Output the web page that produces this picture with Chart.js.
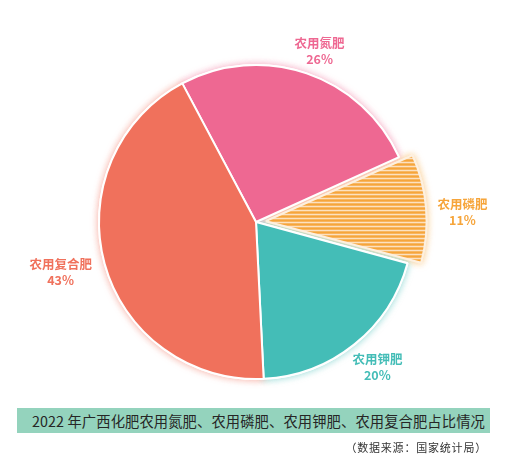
<!DOCTYPE html>
<html>
<head>
<meta charset="utf-8">
<script src="https://cdn.jsdelivr.net/npm/chart.js@4.4.0/dist/chart.umd.min.js"></script>
<style>
  body { margin: 0; background: #fff; }
  #wrap { position: relative; width: 505px; height: 466px; overflow: hidden; }
  #chartBox { position: absolute; left: 0; top: 0; width: 505px; height: 466px; }
  #caption {
    position: absolute; left: 17px; top: 408px; width: 458px; height: 25px;
    padding-left: 15px; background: #94d3bd; color: #262626;
    font: 14.3px "Noto Sans CJK SC", "Noto Sans", sans-serif; line-height: 25px;
    letter-spacing: 0.1px; white-space: nowrap;
  }
  #source {
    position: absolute; right: 18px; top: 439px;
    font: 11px "Noto Sans CJK SC", sans-serif; color: #333; letter-spacing: 0.8px;
  }
</style>
</head>
<body>
<div id="wrap">
  <div id="chartBox"><canvas id="fertChart"></canvas></div>
  <div id="caption">2022 年广西化肥农用氮肥、农用磷肥、农用钾肥、农用复合肥占比情况</div>
  <div id="source">（数据来源：国家统计局）</div>
</div>
<script>
// Share of fertilizer use, Guangxi 2022 (%)
const categories = ['农用氮肥', '农用磷肥', '农用钾肥', '农用复合肥'];
const shares = [26, 11, 20, 43];

const sliceColors = ['#ee6892', '#f6a53b', '#44bdb7', '#f0715c'];
const glowColors = ['rgba(238,104,146,0.55)', 'rgba(246,165,59,0.55)', 'rgba(68,189,183,0.55)', 'rgba(240,113,92,0.55)'];
// label nudges from the slice's outer mid point
const labelNudge = [[13, -22], [40, 4], [23, 23], [-44, 9]];

// striped fill for the phosphate slice
function stripes(base, light) {
  const tile = document.createElement('canvas');
  tile.width = 8;
  tile.height = 4;
  const t = tile.getContext('2d');
  t.fillStyle = base;
  t.fillRect(0, 0, 8, 4);
  t.fillStyle = light;
  t.fillRect(0, 2.7, 8, 1.3);
  return t.createPattern(tile, 'repeat');
}

const ctx = document.getElementById('fertChart').getContext('2d');
const fills = sliceColors.slice();
fills[1] = stripes('#f6a53b', '#fdeede');

// soft glow around each slice
const glowPlugin = {
  id: 'glow',
  beforeDatasetDraw(chart, args) {
    const c = chart.ctx;
    args.meta.data.forEach((arc, i) => {
      c.save();
      c.shadowColor = glowColors[i];
      c.shadowBlur = 7;
      arc.draw(c);
      c.restore();
    });
  }
};

// text labels beside the slices
const labelPlugin = {
  id: 'sliceLabels',
  afterDatasetsDraw(chart) {
    const c = chart.ctx;
    const meta = chart.getDatasetMeta(0);
    meta.data.forEach((arc, i) => {
      const p = arc.getProps(['x', 'y', 'startAngle', 'endAngle', 'outerRadius']);
      const mid = (p.startAngle + p.endAngle) / 2;
      // chart.js draws the offset at a quarter of its value
      const r = p.outerRadius + (arc.options.offset || 0) / 4;
      const x = p.x + Math.cos(mid) * r + labelNudge[i][0];
      const y = p.y + Math.sin(mid) * r + labelNudge[i][1];
      c.save();
      c.fillStyle = sliceColors[i];
      c.font = 'bold 12.5px "Noto Sans CJK SC", sans-serif';
      c.textAlign = 'center';
      c.textBaseline = 'middle';
      c.fillText(categories[i], x, y - 8);
      c.fillText(shares[i] + '%', x, y + 8);
      c.restore();
    });
  }
};

new Chart(ctx, {
  type: 'pie',
  data: {
    labels: categories,
    datasets: [
      {
        data: shares,
        backgroundColor: fills,
        borderColor: ['#ffffff', '#fdf0e0', '#ffffff', '#ffffff'],
        borderWidth: 2,
        offset: [0, 40, 0, 0]
      }
    ]
  },
  options: {
    responsive: true,
    maintainAspectRatio: false,
    animation: false,
    events: [],
    rotation: -28,
    radius: 157,
    layout: {
      padding: { left: 44, right: 37, top: 16, bottom: 38 }
    },
    plugins: {
      legend: { display: false },
      tooltip: { enabled: false }
    }
  },
  plugins: [glowPlugin, labelPlugin]
});
</script>
</body>
</html>
